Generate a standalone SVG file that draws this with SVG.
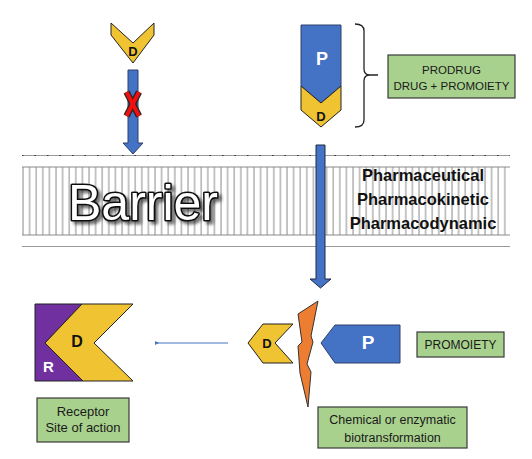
<svg xmlns="http://www.w3.org/2000/svg" width="532" height="459" viewBox="0 0 532 459">
<style>
.t{font-family:"Liberation Sans",Arial,sans-serif;}
.b{font-weight:bold;}
.yel{fill:#F0C332;stroke:#222;stroke-width:1;}
.blu{fill:#4472C4;stroke:#2F3F6A;stroke-width:1;}
.grn{fill:#A9D18E;stroke:#3A3A3A;stroke-width:1.2;}
.lbl{font-family:"Liberation Sans",Arial,sans-serif;fill:#1a1a1a;text-anchor:middle;}
</style>
<defs>
<pattern id="stripes" x="22" y="0" width="6.6" height="10" patternUnits="userSpaceOnUse">
<line x1="1" y1="0" x2="1" y2="10" stroke="#8a8a8a" stroke-width="1"/>
</pattern>
<filter id="shadow" x="-10%" y="-20%" width="125%" height="150%">
<feGaussianBlur in="SourceAlpha" stdDeviation="1.6" result="bl"/>
<feOffset in="bl" dx="2.5" dy="2.5" result="off"/>
<feComponentTransfer in="off" result="sh"><feFuncA type="linear" slope="0.55"/></feComponentTransfer>
<feMerge><feMergeNode in="sh"/><feMergeNode in="SourceGraphic"/></feMerge>
</filter>
<marker id="dot" markerWidth="4" markerHeight="4" refX="2" refY="2" orient="auto" markerUnits="userSpaceOnUse"><path d="M4,0 L0,2 L4,4 Z" fill="#4472C4"/></marker>
</defs>
<rect width="532" height="459" fill="#fff"/>

<g id="barrier">
<line x1="22" y1="155.5" x2="510" y2="155.5" stroke="#9a9a9a" stroke-width="1"/>
<line x1="22" y1="155.5" x2="510" y2="155.5" stroke="#333" stroke-width="1.2" stroke-dasharray="1.5 11"/>
<rect x="22" y="167" width="488" height="68" fill="url(#stripes)"/>
<line x1="22" y1="167" x2="510" y2="167" stroke="#8a8a8a" stroke-width="1"/>
<line x1="22" y1="235" x2="510" y2="235" stroke="#8a8a8a" stroke-width="1"/>
<line x1="22" y1="246.5" x2="510" y2="246.5" stroke="#9a9a9a" stroke-width="1.2"/>
<text x="68" y="220" class="t" font-size="50" fill="#fff" stroke="#111" stroke-width="3.2" paint-order="stroke" stroke-linejoin="round" filter="url(#shadow)">Barrier</text>
<text class="t b" font-size="16.5" text-anchor="middle" fill="#111"><tspan x="423" y="181">Pharmaceutical</tspan><tspan x="423" y="205">Pharmacokinetic</tspan><tspan x="423" y="229">Pharmacodynamic</tspan></text>
</g>

<g id="drug-top">
<polygon class="yel" points="111,23 133,43 154,23 154,35 133,63 111,35"/>
<text x="133" y="56" class="t b" font-size="13" text-anchor="middle" fill="#111">D</text>
</g>

<g id="prodrug">
<polygon class="blu" points="301,25 341,25 341,86 321,103 301,86"/>
<polygon class="yel" points="301,86 321,103 341,86 341,110 321,127 301,110"/>
<text x="322" y="65" class="t b" font-size="18" text-anchor="middle" fill="#fff">P</text>
<text x="321" y="121" class="t b" font-size="13" text-anchor="middle" fill="#111">D</text>
</g>

<g id="bracket">
<path d="M355,24 Q364,24 364,31 L364,69 Q364,75 370,75 L378,75 M370,75 Q364,75 364,81 L364,120 Q364,127 355,127" fill="none" stroke="#222" stroke-width="1.3"/>
</g>

<g id="box-prodrug">
<rect class="grn" x="388" y="55" width="127" height="43"/>
<text class="lbl" font-size="11.5"><tspan x="451.5" y="74">PRODRUG</tspan><tspan x="451.5" y="90">DRUG + PROMOIETY</tspan></text>
</g>

<g id="receptor">
<polygon points="35,304 82,304 45,343 83,381 35,381" fill="#7030A0" stroke="#222" stroke-width="1"/>
<polygon class="yel" points="82,304 133,304 94,343 133,381 83,381 45,343"/>
<text x="77" y="347" class="t b" font-size="16" text-anchor="middle" fill="#111">D</text>
<text x="48.5" y="372" class="t b" font-size="15" text-anchor="middle" fill="#fff">R</text>
</g>

<g id="box-receptor">
<rect class="grn" x="37" y="398" width="92" height="44"/>
<text class="lbl" font-size="13"><tspan x="83" y="416">Receptor</tspan><tspan x="83" y="432">Site of action</tspan></text>
</g>

<g id="drug-free">
<polygon class="yel" points="248,343 263,324 293,324 275,343 293,363 263,363"/>
<text x="267" y="348" class="t b" font-size="13" text-anchor="middle" fill="#111">D</text>
</g>

<g id="bolt">
<polygon points="318,301 298,314 302,342 298,346 300,373 308,407 311,372 307,364 313,342 311,336" fill="#ED7D31" stroke="#333" stroke-width="1"/>
</g>

<g id="promoiety">
<polygon class="blu" points="321,343 335,325 400,325 400,363 335,363"/>
<text x="368" y="349" class="t b" font-size="19" text-anchor="middle" fill="#fff">P</text>
</g>

<g id="box-promoiety">
<rect class="grn" x="417" y="332" width="87" height="25"/>
<text x="460.5" y="348.5" class="lbl" font-size="12">PROMOIETY</text>
</g>

<g id="box-chem">
<rect class="grn" x="318" y="407" width="149" height="41"/>
<text class="lbl" font-size="12.5"><tspan x="392.5" y="423.5">Chemical or enzymatic</tspan><tspan x="392.5" y="441.5">biotransformation</tspan></text>
</g>

<g id="connectors">
<polygon class="blu" points="128,70 138,70 138,143 143,143 133,154 123,143 128,143"/>
<line x1="126.5" y1="92" x2="139" y2="116" stroke="#222" stroke-width="6.5"/>
<line x1="139" y1="92" x2="126.5" y2="116" stroke="#222" stroke-width="6.5"/>
<line x1="126.5" y1="92" x2="139" y2="116" stroke="#F01010" stroke-width="4"/>
<line x1="139" y1="92" x2="126.5" y2="116" stroke="#F01010" stroke-width="4"/>
<polygon points="316,145 325,145 325,279 331,279 320.5,288 310,279 316,279" fill="#4472C4" stroke="#1F2A44" stroke-width="1"/>
<line x1="228" y1="343" x2="157" y2="343" stroke="#4472C4" stroke-width="1" marker-end="url(#dot)"/>
</g>
</svg>
